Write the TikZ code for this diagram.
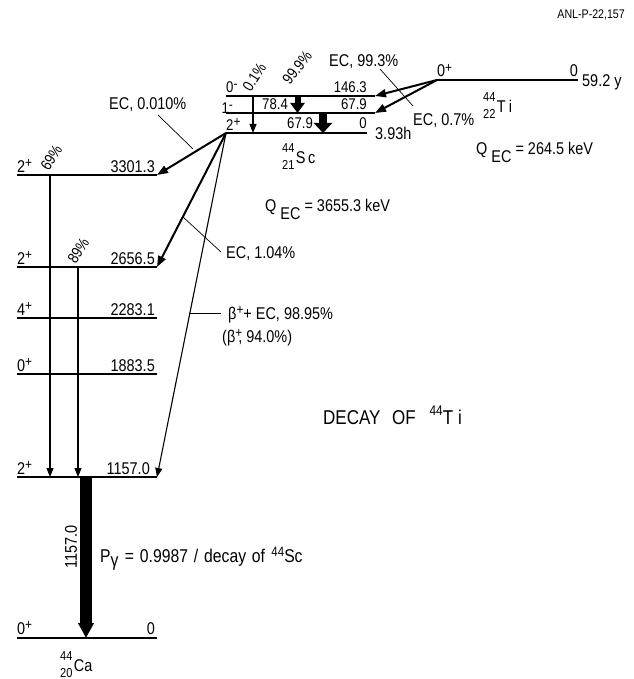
\documentclass[tikz,border=0pt]{standalone}
\usepackage{fontspec}
\setmainfont{Liberation Sans}[FakeStretch=0.85]
\usetikzlibrary{arrows.meta}
\newcommand\nuc[3]{\mbox{\rlap{\raisebox{11pt}{\fontsize{13}{13}\selectfont #1}}\raisebox{-6pt}{\fontsize{13}{13}\selectfont #2}\hspace{1.5pt}#3}}
\newcommand\spx[1]{\raisebox{4.5pt}{\fontsize{14}{14}\selectfont #1}}
\begin{document}
\begin{tikzpicture}[x=1pt,y=-1pt,
  every node/.style={inner sep=0pt,font=\fontsize{17}{19}\selectfont},
  lvl/.style={line width=1.7pt},
  glvl/.style={line width=2.8pt},
  tr/.style={line width=1.1pt,-{Triangle[length=9pt,width=7pt]}},
  ec/.style={line width=2pt,-{Triangle[length=11pt,width=8pt]}},
  lead/.style={line width=0.7pt},
  small/.style={font=\fontsize{15.5}{17}\selectfont}]
\useasboundingbox (0,0) rectangle (633,679);
% ---------- coordinates ----------
\coordinate (c3L) at (17,175);  \coordinate (c3R) at (157,175);
\coordinate (c2L) at (17,267);  \coordinate (c2R) at (157,267);
\coordinate (c4L) at (17,318);  \coordinate (c4R) at (157,318);
\coordinate (c1L) at (17,374);  \coordinate (c1R) at (157,374);
\coordinate (cxL) at (17,477);  \coordinate (cxR) at (157,477);
\coordinate (c0L) at (17,638);  \coordinate (c0R) at (157,638);
\coordinate (s0L) at (226,96);  \coordinate (s0R) at (375,96);
\coordinate (s1L) at (226,113); \coordinate (s1R) at (375,113);
\coordinate (sgL) at (226,133); \coordinate (sgR) at (367,133);
\coordinate (tL) at (437,80);   \coordinate (tR) at (578,80);
% ---------- levels ----------
\draw[lvl] (c3L) -- (c3R);
\draw[lvl] (c2L) -- (c2R);
\draw[lvl] (c4L) -- (c4R);
\draw[lvl] (c1L) -- (c1R);
\draw[glvl] (cxL) -- (cxR);
\draw[glvl] (c0L) -- (c0R);
\draw[lvl] (s0L) -- (s0R);
\draw[lvl] (s1L) -- (s1R);
\draw[glvl] (sgL) -- (sgR);
\draw[line width=2.4pt] (tL) -- (tR);
% ---------- Ca level labels ----------
\node[anchor=base west] (j3) at (17,172) {2\spx{+}};
\node[anchor=base east] (e3) at (155,172) {3301.3};
\node[anchor=base west] (j2) at (17,264) {2\spx{+}};
\node[anchor=base east] (e2) at (155,264) {2656.5};
\node[anchor=base west] (j4) at (17,315) {4\spx{+}};
\node[anchor=base east] (e4) at (155,315) {2283.1};
\node[anchor=base west] (j1) at (17,371) {0\spx{+}};
\node[anchor=base east] (e1) at (155,371) {1883.5};
\node[anchor=base west] (jx) at (17,474) {2\spx{+}};
\node[anchor=base east] (ex) at (150,474) {1157.0};
\node[anchor=base west] (j0) at (17,634) {0\spx{+}};
\node[anchor=base east] (e0) at (155,634) {0};
% ---------- Sc level labels ----------
\node[anchor=base west,small] (sj0) at (226,93) {0\spx{-}};
\node[anchor=base east,small] (se0) at (367,93) {146.3};
\node[anchor=base east,small] (sj1) at (233,114) {1\spx{-}};
\node[anchor=base west,small] (sg78) at (262,110) {78.4};
\node[anchor=base east,small] (se1) at (367,110) {67.9};
\node[anchor=base west,small] (sjg) at (226,131) {2\spx{+}};
\node[anchor=base west,small] (sg68) at (287,129) {67.9};
\node[anchor=base east,small] (seg) at (367,129) {0};
\node[anchor=base west] (sth) at (375,140) {3.93h};
\node[anchor=base west] (scn) at (282,164) {\nuc{44}{21}{S\hspace{2.5pt}c}};
% ---------- Ti level labels ----------
\node[anchor=base west] (tj) at (437,77) {0\spx{+}};
\node[anchor=base east] (te) at (578,77) {0};
\node[anchor=base west] (tth) at (582,87) {59.2 y};
\node[anchor=base west] (tin) at (483,113) {\nuc{44}{22}{T\hspace{3pt}i}};
% ---------- Q values ----------
\node[anchor=base west] (qti) at (476,154) {Q\hspace{4pt}\raisebox{-9pt}{EC} = 264.5 keV};
\node[anchor=base west] (qsc) at (265,211) {Q\hspace{4pt}\raisebox{-9pt}{EC} = 3655.3 keV};
% ---------- Sc internal transitions ----------
\coordinate (a01t) at (253,96);  \coordinate (a01b) at (253,133);
\draw[tr] (a01t) -- (a01b);
\coordinate (a99t) at (297.5,96); \coordinate (a99b) at (297.5,113);
\draw[line width=6pt,-{Triangle[length=10pt,width=14pt]}] (a99t) -- (a99b);
\coordinate (a68t) at (323,113); \coordinate (a68b) at (323,133);
\draw[line width=8pt,-{Triangle[length=10pt,width=18pt]}] (a68t) -- (a68b);
\node[anchor=south west,rotate=58,small] (p01) at (251,93) {0.1\%};
\node[anchor=south west,rotate=52,small] (p99) at (290,86) {99.9\%};
% ---------- Ti EC ----------
\draw[ec] (tL) -- (s0R);
\draw[ec] (tL) -- (s1R);
\node[anchor=base west] (ec993) at (329,67) {EC, 99.3\%};
\node[anchor=base west] (ec07) at (413,126) {EC, 0.7\%};
\coordinate (l1a) at (380,69); \coordinate (l1b) at (413,106);
\draw[lead] (l1a) -- (l1b);
% ---------- Sc decays ----------
\draw[ec] (sgL) -- (c3R);
\draw[ec] (sgL) -- (c2R);
\draw[tr] (sgL) -- (cxR);
\node[anchor=base west] (ec010) at (109,110) {EC, 0.010\%};
\coordinate (l2a) at (158,115); \coordinate (l2b) at (193,149);
\draw[lead] (l2a) -- (l2b);
\node[anchor=base west] (ec104) at (226,258) {EC, 1.04\%};
\coordinate (l3a) at (183,217); \coordinate (l3b) at (221,252);
\draw[lead] (l3a) -- (l3b);
\node[anchor=base west] (bp) at (228,319) {β\spx{+}+ EC, 98.95\%};
\node[anchor=base west] (bp2) at (222,342) {(β\spx{+}\hspace{-4pt}, 94.0\%)};
\coordinate (l4a) at (190,313); \coordinate (l4b) at (221,313);
\draw[lead] (l4a) -- (l4b);
% ---------- Ca gammas ----------
\coordinate (g69t) at (50,175); \coordinate (g69b) at (50,477);
\draw[tr] (g69t) -- (g69b);
\coordinate (g89t) at (78,267); \coordinate (g89b) at (78,477);
\draw[tr] (g89t) -- (g89b);
\node[anchor=south west,rotate=58,small] (p69) at (49,172) {69\%};
\node[anchor=south west,rotate=58,small] (p89) at (76,265) {89\%};
\coordinate (gbt) at (86,478); \coordinate (gbb) at (86,638);
\draw[line width=12pt,-{Triangle[length=15pt,width=15pt]}] (gbt) -- (gbb);
\node[rotate=90] (g1157) at (71,547) {1157.0};
\node[anchor=base west,font=\fontsize{18.5}{20}\selectfont] (pg) at (100,562) {P\raisebox{-4pt}{γ}\hspace{2pt} = \hspace{1.5pt}0.9987 \hspace{1.5pt}/\hspace{1.5pt} decay \hspace{1.5pt}of \hspace{2pt}\raisebox{6pt}{\fontsize{13.5}{13}\selectfont 44}Sc};
\node[anchor=base west] (can) at (60,671) {\nuc{44}{20}{Ca}};
% ---------- titles ----------
\node[anchor=base west,font=\fontsize{20}{22}\selectfont] (dec) at (323,424) {DECAY\hspace{7pt} OF\hspace{9pt} \raisebox{9pt}{\fontsize{14}{14}\selectfont 44}T\hspace{5pt}i};
\node[anchor=base east,font=\fontsize{12.5}{14}\selectfont] (anl) at (625,19) {ANL-P-22,157};
\end{tikzpicture}
\end{document}
